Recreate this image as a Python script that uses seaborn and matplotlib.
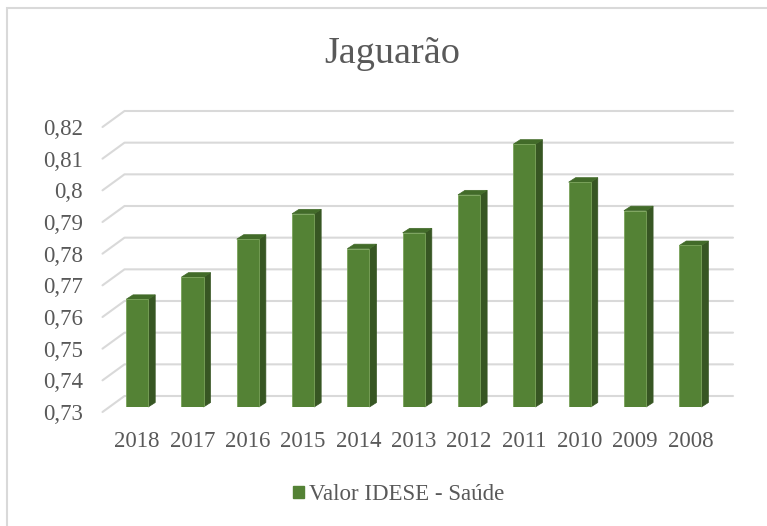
import matplotlib
matplotlib.use("Agg")
import matplotlib.pyplot as plt
import matplotlib.transforms as mtransforms
from matplotlib.patches import Polygon, Rectangle, Patch
import seaborn as sns
import pandas as pd

years = ["2018", "2017", "2016", "2015", "2014", "2013", "2012", "2011", "2010", "2009", "2008"]
values = [0.764, 0.771, 0.783, 0.791, 0.780, 0.785, 0.797, 0.813, 0.801, 0.792, 0.781]
series_name = "Valor IDESE - Saúde"
title = "Jaguarão"
yticks = [0.73, 0.74, 0.75, 0.76, 0.77, 0.78, 0.79, 0.80, 0.81, 0.82]
ytick_labels = ["0,73", "0,74", "0,75", "0,76", "0,77", "0,78", "0,79", "0,8", "0,81", "0,82"]

sns.set_style("white")
plt.rcParams["font.family"] = ["Liberation Serif", "DejaVu Serif"]

W, H = 767, 526
fig = plt.figure(figsize=(W / 100, H / 100), dpi=100)

left_px, right_px = 109.5, 718.0
bot_px, top_px = 407.0, 122.0
ax = fig.add_axes([left_px / W, 1 - bot_px / H, (right_px - left_px) / W, (bot_px - top_px) / H])
ax.set_zorder(2)

FRONT = "#548235"
SIDE = "#375623"
TOP = "#426b29"
GRID = "#d9d9d9"
TXT = "#595959"

df = pd.DataFrame({"year": years, "value": values})
sns.barplot(data=df, x="year", y="value", color=FRONT, width=0.40, ax=ax,
            saturation=1, edgecolor="#7aa35a", linewidth=0.6, zorder=3)
ax.set_xlim(-0.5, len(years) - 0.5)
ax.set_ylim(yticks[0], yticks[-1])
ax.set_xlabel("")
ax.set_ylabel("")
for s in ax.spines.values():
    s.set_visible(False)

back_dx, back_dy = 15, 11
front_dx, front_dy = -7, -5
tD = ax.transData
for v in yticks:
    x0, y0 = tD.transform((-0.5, v))
    x1, y1 = tD.transform((len(years) - 0.5, v))
    xs = [x0 + front_dx, x0 + back_dx, x1 + back_dx]
    ys = [y0 + front_dy, y0 + back_dy, y1 + back_dy]
    ln = plt.Line2D(xs, ys, color=GRID, lw=1.5, transform=None, zorder=0.5)
    fig.add_artist(ln)

dx, dy = 7, 4.5
ymin = ax.get_ylim()[0]
for p in ax.patches:
    bx, by = p.get_x(), max(p.get_y(), ymin)
    bw, top_v = p.get_width(), p.get_y() + p.get_height()
    (X0, Y0) = tD.transform((bx, by))
    (X1, Y1) = tD.transform((bx + bw, top_v))
    side = Polygon([(X1, Y0), (X1, Y1), (X1 + dx, Y1 + dy), (X1 + dx, Y0 + dy)],
                   closed=True, facecolor=SIDE, edgecolor=SIDE, lw=0.5, transform=None, zorder=1)
    top = Polygon([(X0, Y1), (X1, Y1), (X1 + dx, Y1 + dy), (X0 + dx, Y1 + dy)],
                  closed=True, facecolor=TOP, edgecolor=TOP, lw=0.5, transform=None, zorder=1)
    fig.add_artist(side)
    fig.add_artist(top)

ax.set_yticks(yticks)
ax.set_yticklabels(ytick_labels)
ax.tick_params(axis="both", length=0, labelsize=16.5, labelcolor=TXT)
ax.tick_params(axis="y", pad=19)
ax.tick_params(axis="x", pad=17)
off_y = mtransforms.ScaledTranslation(0, -5 / 100, fig.dpi_scale_trans)
for lab in ax.get_yticklabels():
    lab.set_transform(lab.get_transform() + off_y)
ax.set_facecolor("none")
ax.grid(False)

fig.text(392 / W, 1 - 54 / H, title, ha="center", va="center", fontsize=27.5, color=TXT)

fig.legend(handles=[Patch(facecolor=FRONT, edgecolor=FRONT, label=series_name)],
           loc="center", bbox_to_anchor=(399 / W, 1 - 495 / H), frameon=False,
           fontsize=16.5, labelcolor=TXT, handlelength=0.45, handleheight=0.45,
           handletextpad=0.25)

fig.add_artist(Rectangle((7 / W, -0.1), 1.2, 1 - 8 / H + 0.1, transform=fig.transFigure,
                         fill=False, edgecolor=GRID, lw=1.5, zorder=0))

fig.savefig("out.png", dpi=100)
